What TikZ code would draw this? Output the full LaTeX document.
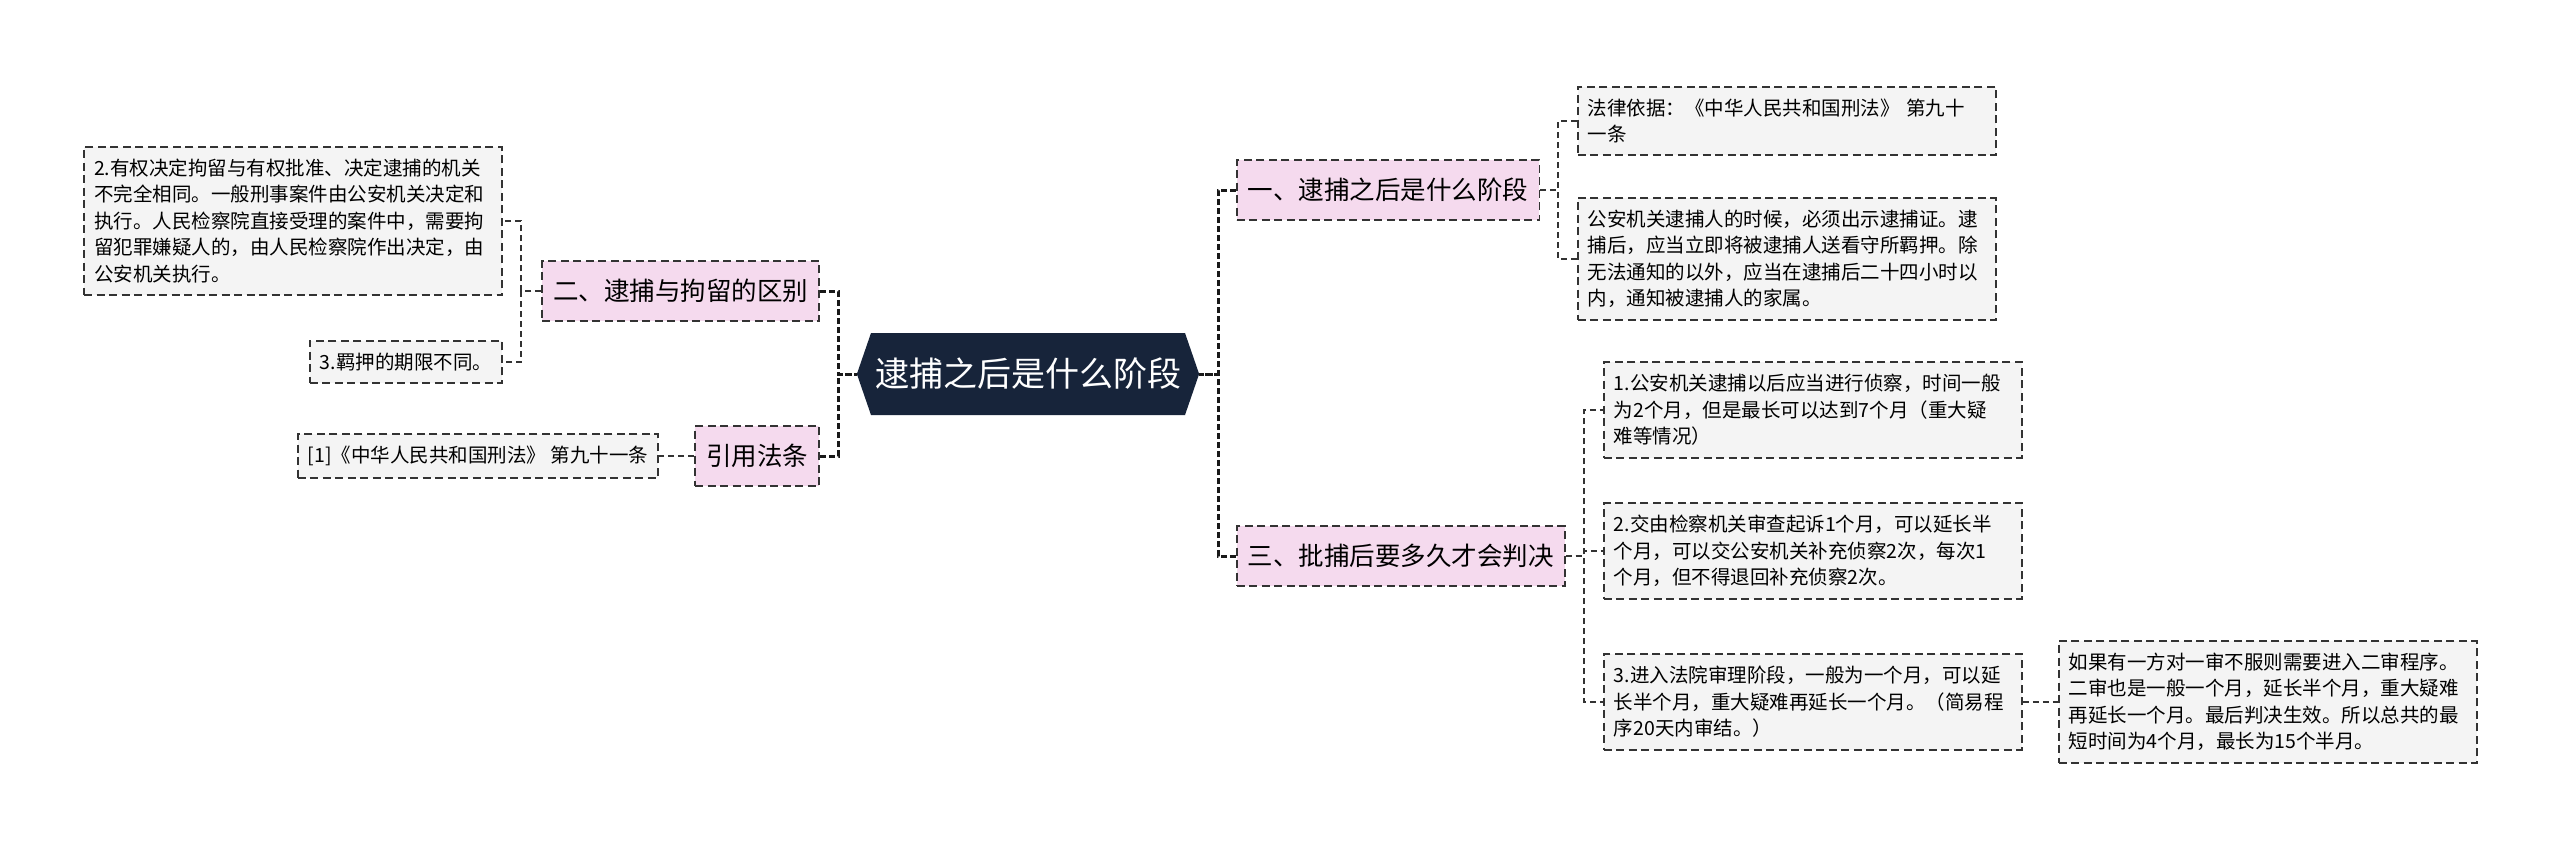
\documentclass[tikz,border=0pt]{standalone}
\usepackage{fontspec}
\setmainfont{Noto Sans CJK SC}
\usetikzlibrary{positioning,shapes.symbols}

\definecolor{linec}{HTML}{333333}
\definecolor{leafc}{HTML}{F4F4F4}
\definecolor{pinkc}{HTML}{F5DAEE}
\definecolor{rootc}{HTML}{17243A}
\newcommand{\leaffont}{\fontsize{19.5pt}{26.5pt}\selectfont}
\newcommand{\topicfont}{\fontsize{25.5pt}{30pt}\selectfont}
\newcommand{\rootfont}{\fontsize{34pt}{40pt}\selectfont}

\begin{document}
\begin{tikzpicture}[x=1pt,y=-1pt,node distance=36pt]
  \tikzstyle{leaf}=[draw=linec,line width=1.8pt,dash pattern=on 8pt off 4.5pt,fill=leafc,inner xsep=10pt,inner ysep=12pt,font=\leaffont,align=left]
  \tikzstyle{topic}=[draw=linec,line width=1.8pt,dash pattern=on 8pt off 4.5pt,fill=pinkc,inner xsep=11pt,minimum height=60pt,font=\topicfont]
  \tikzstyle{rootbox}=[signal,signal to=east and west,signal pointer angle=142,fill=rootc,text=white,inner xsep=4pt,minimum height=82pt,font=\rootfont]
  \tikzstyle{link}=[draw=linec,line width=2pt,dash pattern=on 6pt off 4pt]
  \tikzstyle{mainlink}=[draw=black!90,line width=3pt,dash pattern=on 6pt off 3pt]
  \useasboundingbox[fill=white] (0,0) rectangle (2560,849);

  \node[rootbox] (root) at (1028,374) {逮捕之后是什么阶段};

  % left side
  \node[topic,anchor=east] (er) at (820,291) {二、逮捕与拘留的区别};
  \node[topic,anchor=east] (yin) at (820,456) {引用法条};
  \node[leaf,text width=398pt,anchor=east] (l1) at (503,221) {2.有权决定拘留与有权批准、决定逮捕的机关\\不完全相同。一般刑事案件由公安机关决定和\\执行。人民检察院直接受理的案件中，需要拘\\留犯罪嫌疑人的，由人民检察院作出决定，由\\公安机关执行。};
  \node[leaf,anchor=east] (l2) at (503,362) {3.羁押的期限不同。};
  \node[leaf,left=35pt of yin] (l3) {[1]《中华人民共和国刑法》 第九十一条};

  % right side
  \node[topic,anchor=west] (yi) at (1236,190) {一、逮捕之后是什么阶段};
  \node[topic,anchor=west] (san) at (1236,556) {三、批捕后要多久才会判决};
  \node[leaf,text width=398pt,anchor=west] (r1a) at (1577,121) {法律依据：《中华人民共和国刑法》 第九十\\一条};
  \node[leaf,text width=398pt,anchor=west] (r1b) at (1577,259) {公安机关逮捕人的时候，必须出示逮捕证。逮\\捕后，应当立即将被逮捕人送看守所羁押。除\\无法通知的以外，应当在逮捕后二十四小时以\\内，通知被逮捕人的家属。};
  \node[leaf,text width=398pt,anchor=west] (r3a) at (1603,410) {1.公安机关逮捕以后应当进行侦察，时间一般\\为2个月，但是最长可以达到7个月（重大疑\\难等情况）};
  \node[leaf,text width=398pt,anchor=west] (r3b) at (1603,551) {2.交由检察机关审查起诉1个月，可以延长半\\个月，可以交公安机关补充侦察2次，每次1\\个月，但不得退回补充侦察2次。};
  \node[leaf,text width=398pt,anchor=west] (r3c) at (1603,702) {3.进入法院审理阶段，一般为一个月，可以延\\长半个月，重大疑难再延长一个月。（简易程\\序20天内审结。）};
  \node[leaf,text width=398pt,right=35pt of r3c] (far) {如果有一方对一审不服则需要进入二审程序。\\二审也是一般一个月，延长半个月，重大疑难\\再延长一个月。最后判决生效。所以总共的最\\短时间为4个月，最长为15个半月。};

  % connectors
  \draw[mainlink] (er.east) -- ++(18,0) |- (root.west);
  \draw[mainlink] (yin.east) -- ++(18,0) |- (root.west);
  \draw[mainlink] (yi.west) -- ++(-18,0) |- (root.east);
  \draw[mainlink] (san.west) -- ++(-18,0) |- (root.east);
  \draw[link] (er.west) -- ++(-20,0) |- (l1.east);
  \draw[link] (er.west) -- ++(-20,0) |- (l2.east);
  \draw[link] (yin.west) -- (l3.east);
  \draw[link] (yi.east) -- ++(18,0) |- (r1a.west);
  \draw[link] (yi.east) -- ++(18,0) |- (r1b.west);
  \draw[link] (san.east) -- ++(18,0) |- (r3a.west);
  \draw[link] (san.east) -- ++(18,0) |- (r3b.west);
  \draw[link] (san.east) -- ++(18,0) |- (r3c.west);
  \draw[link] (r3c.east) -- (far.west);
\end{tikzpicture}
\end{document}
